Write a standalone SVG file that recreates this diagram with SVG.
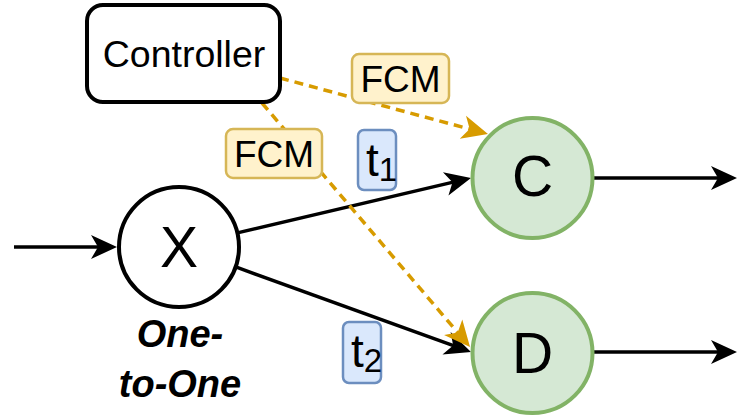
<svg xmlns="http://www.w3.org/2000/svg" width="739" height="417" viewBox="0 0 739 417">
  <style>
    text { font-family: "Liberation Sans", Arial, sans-serif; fill: #000; }
    .node { fill: #fff; stroke: #000; stroke-width: 4; }
    .green { fill: #d5e8d4; stroke: #82b366; stroke-width: 4; }
    .flow { fill: none; stroke: #000; stroke-width: 3.5; }
    .ctrl { fill: none; stroke: #d79b00; stroke-width: 3.5; stroke-dasharray: 9 6; }
    .fcm { fill: #fff2cc; stroke: #d6b656; stroke-width: 2.5; }
    .tag { fill: #dae8fc; stroke: #6c8ebf; stroke-width: 2.5; }
    .big { font-size: 57px; text-anchor: middle; }
  </style>
  <defs>
    <marker id="arrowBlack" viewBox="-28 -14 30 28" markerWidth="30" markerHeight="28" refX="-15" refY="0" orient="auto" markerUnits="userSpaceOnUse">
      <path d="M0,0 L-26,-12 L-19,0 L-26,12 Z" fill="#000"/>
    </marker>
    <marker id="arrowOrange" viewBox="-28 -14 30 28" markerWidth="30" markerHeight="28" refX="-15" refY="0" orient="auto" markerUnits="userSpaceOnUse">
      <path d="M0,0 L-26,-12 L-19,0 L-26,12 Z" fill="#d79b00"/>
    </marker>
  </defs>

  <!-- data-flow connectors -->
  <g id="connectors">
    <line class="flow" x1="14" y1="247" x2="102" y2="247" marker-end="url(#arrowBlack)"/>
    <line class="flow" x1="238.4" y1="232.6" x2="456.4" y2="181.4" marker-end="url(#arrowBlack)"/>
    <line class="flow" x1="236.4" y1="267.2" x2="456.9" y2="346.9" marker-end="url(#arrowBlack)"/>
    <line class="flow" x1="594" y1="178" x2="722" y2="178" marker-end="url(#arrowBlack)"/>
    <line class="flow" x1="594" y1="352" x2="722" y2="352" marker-end="url(#arrowBlack)"/>
    <!-- control messages -->
    <line class="ctrl" x1="280" y1="78" x2="473.5" y2="130.1" marker-end="url(#arrowOrange)"/>
    <line class="ctrl" x1="262" y1="103" x2="460.3" y2="335.6" marker-end="url(#arrowOrange)"/>
  </g>

  <!-- edge labels -->
  <g id="label-fcm-1">
    <rect class="fcm" x="352" y="54" width="97" height="49" rx="7"/>
    <text x="400.5" y="92" font-size="37" text-anchor="middle">FCM</text>
  </g>
  <g id="label-fcm-2">
    <rect class="fcm" x="226" y="129" width="96" height="49" rx="7"/>
    <text x="274" y="167" font-size="37" text-anchor="middle">FCM</text>
  </g>
  <g id="label-t1">
    <rect class="tag" x="358" y="130" width="38" height="60" rx="6"/>
    <text x="366" y="176" font-size="46">t<tspan font-size="33" dy="5">1</tspan></text>
  </g>
  <g id="label-t2">
    <rect class="tag" x="343" y="322" width="38" height="61" rx="6"/>
    <text x="351" y="367" font-size="46">t<tspan font-size="33" dy="5">2</tspan></text>
  </g>

  <!-- nodes -->
  <g id="controller">
    <rect class="node" x="87" y="5" width="193" height="97" rx="16"/>
    <text x="184" y="67" font-size="37.5" text-anchor="middle">Controller</text>
  </g>
  <g id="node-x">
    <circle class="node" cx="179" cy="247" r="60"/>
    <text class="big" x="179" y="267">X</text>
  </g>
  <g id="node-c">
    <circle class="green" cx="532.5" cy="178" r="60"/>
    <text class="big" x="532.5" y="196">C</text>
  </g>
  <g id="node-d">
    <circle class="green" cx="532.5" cy="353" r="60"/>
    <text class="big" x="532.5" y="373">D</text>
  </g>
  <g id="mode-label">
    <text x="180" y="347" font-size="38" font-weight="bold" font-style="italic" text-anchor="middle">One-</text>
    <text x="180" y="397" font-size="38" font-weight="bold" font-style="italic" text-anchor="middle">to-One</text>
  </g>
</svg>
